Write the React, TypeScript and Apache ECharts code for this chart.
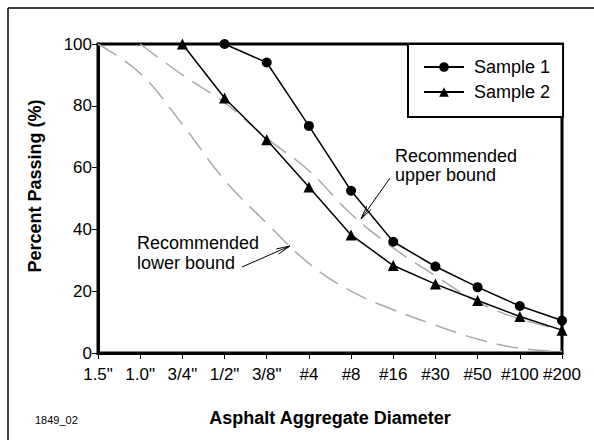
import React, { useEffect, useRef } from "react";
import * as echarts from "echarts";

const categories = ['1.5"', '1.0"', '3/4"', '1/2"', '3/8"', "#4", "#8", "#16", "#30", "#50", "#100", "#200"];
const sample1 = ["-", "-", "-", 100, 94, 73.5, 52.5, 36, 28, 21.3, 15.2, 10.5];
const sample2 = ["-", "-", 100, 82.5, 69, 53.7, 38.2, 28.3, 22.3, 17, 11.8, 7.4];
const upperBound = ["-", 100, 90, 81, 69.5, 59, 45, 34, 25, 16.5, 11, 7.5];
const lowerBound = [100, 90.5, 74, 56, 42, 29, 20, 14, 9, 4.5, 1.5, 0.5];
const yTicks = { min: 0, max: 100, interval: 20 };

const FONT = "'Liberation Sans', Arial, sans-serif";

function arrow(x1: number, y1: number, x2: number, y2: number) {
  const L = 14;
  const a = 0.2;
  const ang = Math.atan2(y2 - y1, x2 - x1);
  const p1 = [x2 - L * Math.cos(ang - a), y2 - L * Math.sin(ang - a)];
  const p2 = [x2 - L * Math.cos(ang + a), y2 - L * Math.sin(ang + a)];
  return [
    { type: "line", shape: { x1, y1, x2, y2 }, style: { stroke: "#000", lineWidth: 1 }, z: 10 },
    { type: "polyline", shape: { points: [p1, [x2, y2], p2] }, style: { stroke: "#000", fill: null, lineWidth: 1 }, z: 10 },
  ];
}

export default function App() {
  const ref = useRef<HTMLDivElement>(null);
  useEffect(() => {
    if (!ref.current) return;
    const chart = echarts.init(ref.current, undefined, { renderer: "svg" });
    const dashStyle = { color: "#aaaaaa", width: 1.5, type: [22, 10] as any };
    chart.setOption({
      animation: false,
      backgroundColor: "#fff",
      textStyle: { fontFamily: FONT, color: "#000" },
      grid: { left: 98, right: 32, top: 44, bottom: 87, show: true, borderColor: "#000", borderWidth: 3, backgroundColor: "transparent" },
      legend: {
        data: ["Sample 1", "Sample 2"],
        orient: "vertical",
        left: 408,
        top: 44,
        padding: [14, 13, 16, 15],
        itemGap: 7,
        itemWidth: 40,
        itemHeight: 12,
        borderColor: "#000",
        borderWidth: 2,
        backgroundColor: "#fff",
        textStyle: { fontSize: 18, fontFamily: FONT, color: "#000", padding: [0, 0, 0, 5] },
      },
      xAxis: {
        type: "category",
        data: categories,
        boundaryGap: false,
        axisLine: { lineStyle: { color: "#000", width: 3 } },
        axisTick: { show: true, length: 6, lineStyle: { color: "#000", width: 1 } },
        axisLabel: { interval: 0, hideOverlap: false, fontSize: 17, color: "#000", margin: 13, fontFamily: FONT },
        splitLine: { show: false },
      },
      yAxis: {
        type: "value",
        min: yTicks.min,
        max: yTicks.max,
        interval: yTicks.interval,
        axisLine: { show: true, lineStyle: { color: "#000", width: 3 } },
        axisTick: { show: true, length: 6, lineStyle: { color: "#000", width: 1 } },
        axisLabel: { fontSize: 17, color: "#000", margin: 6, fontFamily: FONT },
        splitLine: { show: false },
      },
      series: [
        {
          name: "Upper bound",
          type: "line",
          data: upperBound,
          smooth: 0.4,
          showSymbol: false,
          symbol: "none",
          lineStyle: dashStyle,
          z: 1,
        },
        {
          name: "Lower bound",
          type: "line",
          data: lowerBound,
          smooth: 0.4,
          showSymbol: false,
          symbol: "none",
          lineStyle: dashStyle,
          z: 1,
        },
        {
          name: "Sample 1",
          type: "line",
          data: sample1,
          symbol: "circle",
          symbolSize: 10,
          itemStyle: { color: "#000" },
          lineStyle: { color: "#000", width: 1.5 },
          z: 3,
        },
        {
          name: "Sample 2",
          type: "line",
          data: sample2,
          symbol: "triangle",
          symbolSize: 11,
          itemStyle: { color: "#000" },
          lineStyle: { color: "#000", width: 1.5 },
          z: 3,
        },
      ],
      graphic: [
        { type: "line", shape: { x1: 8, y1: 8, x2: 594, y2: 8 }, style: { stroke: "#000", lineWidth: 1.5 } },
        { type: "line", shape: { x1: 8, y1: 8, x2: 8, y2: 440 }, style: { stroke: "#000", lineWidth: 1.5 } },
        {
          type: "text",
          x: 35,
          y: 186,
          rotation: Math.PI / 2,
          style: { text: "Percent Passing (%)", font: `bold 18px ${FONT}`, fill: "#000", align: "center", verticalAlign: "middle" },
        },
        {
          type: "text",
          x: 330,
          y: 418,
          style: { text: "Asphalt Aggregate Diameter", font: `bold 18px ${FONT}`, fill: "#000", align: "center", verticalAlign: "middle" },
        },
        {
          type: "text",
          x: 35,
          y: 420,
          style: { text: "1849_02", font: `11px ${FONT}`, fill: "#000", align: "left", verticalAlign: "middle" },
        },
        {
          type: "text",
          x: 395,
          y: 165,
          z: 10,
          style: { text: "Recommended\nupper bound", font: `18px ${FONT}`, lineHeight: 19, fill: "#000", align: "left", verticalAlign: "middle" },
        },
        {
          type: "text",
          x: 137,
          y: 253,
          z: 10,
          style: { text: "Recommended\nlower bound", font: `18px ${FONT}`, lineHeight: 20, fill: "#000", align: "left", verticalAlign: "middle" },
        },
        ...arrow(390, 178, 361, 219),
        ...arrow(242, 267, 290, 246),
      ],
    });
    return () => chart.dispose();
  }, []);
  return <div ref={ref} style={{ position: "fixed", left: 0, top: 0, width: 594, height: 440 }} />;
}
